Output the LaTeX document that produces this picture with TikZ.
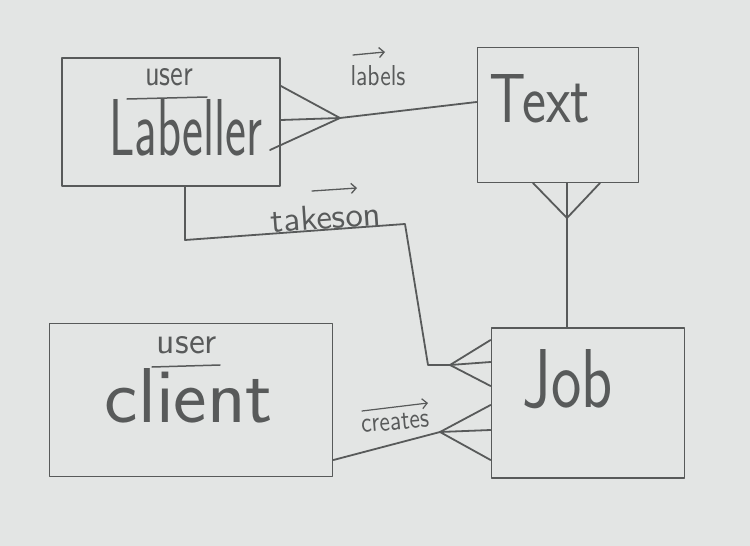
\documentclass[tikz,border=0pt]{standalone}
\usepackage{graphicx}
\usetikzlibrary{calc,arrows.meta}
\definecolor{paper}{HTML}{E3E5E4}
\definecolor{ink}{HTML}{585A5A}
\newcommand{\handtext}[3]{\resizebox{#1pt}{#2pt}{#3}}
\begin{document}
\begin{tikzpicture}[x=1pt,y=-1pt,
  ink line/.style={draw=ink,line width=1.8pt,line cap=round,line join=round},
  entity/.style={ink line,rectangle,inner sep=0pt},
  word/.style={text=ink,inner sep=0pt,font=\sffamily\fontsize{17}{17}\selectfont},
  smallword/.style={text=ink,inner sep=0pt,font=\sffamily\fontsize{10}{10}\selectfont},
  overarrow/.style={ink line,line width=1.3pt,-{Straight Barb[length=5pt,width=10pt]}}]
\fill[paper] (0,0) rectangle (750,546);
\useasboundingbox (0,0) rectangle (750,546);

% entities
\node[entity,minimum width=218pt,minimum height=128pt] (lab) at (171,122) {};
\node[entity,minimum width=161pt,minimum height=135pt] (txt) at (558,115) {};
\node[entity,minimum width=193pt,minimum height=150pt] (job) at (588,403) {};
\node[entity,minimum width=283pt,minimum height=153pt] (cli) at (191,400) {};

% entity texts
\node[smallword] (labuser) at (169,77) {\handtext{48}{17}{user}};
\draw[ink line,line width=1.5pt] (127,99) -- (207,97);
\node[word] (labname) at (186,128) {\handtext{153}{56}{Labeller}};
\node[word] (txtname) at (540,99) {\handtext{100}{48}{Text}};
\node[word] (jobname) at (568,379) {\handtext{90}{58}{Job}};
\node[smallword] (cliuser) at (187,345) {\handtext{60}{17}{user}};
\draw[ink line,line width=1.5pt] (152,367) -- (220,365);
\node[word] (cliname) at (189,396) {\handtext{168}{54}{client}};

% labels: Labeller >--- Text
\coordinate (c1) at (340,118);
\draw[ink line] (c1) -- (txt.west |- 0,102);
\draw[ink line] (lab.east |- 0,86) -- (c1);
\draw[ink line] (lab.east |- 0,120) -- (c1);
\draw[ink line] (270,150) -- (c1);
\node[smallword] (rlabels) at (378,76) {\handtext{55}{20}{labels}};
\draw[overarrow] (353,55) -- (385,52);

% Text >--- Job
\coordinate (c2) at (567,218);
\draw[ink line] (c2) -- (c2 |- job.north);
\draw[ink line] (c2 |- txt.south) -- (c2);
\draw[ink line] (533,183) -- (c2);
\draw[ink line] (600,183) -- (c2);

% Labeller --- takes on --< Job
\coordinate (c3) at (450,365);
\draw[ink line] (185,186) -- (185,240) -- (405,224) -- (428,365) -- (c3);
\draw[ink line] (job.west |- 0,340) -- (c3);
\draw[ink line] (job.west |- 0,362) -- (c3);
\draw[ink line] (job.west |- 0,386) -- (c3);
\node[smallword,rotate=4] (rtakes) at (326,217) {\handtext{110}{24}{takeson}};
\draw[overarrow] (312,191) -- (357,188);

% client --- creates --< Job
\coordinate (c4) at (440,432);
\draw[ink line] (cli.east |- 0,460) -- (c4);
\draw[ink line] (job.west |- 0,405) -- (c4);
\draw[ink line] (job.west |- 0,430) -- (c4);
\draw[ink line] (job.west |- 0,460) -- (c4);
\node[smallword,rotate=5] (rcreates) at (395,422) {\handtext{68}{16}{creates}};
\draw[overarrow,line width=1.2pt] (362,411) -- (428,403);
\end{tikzpicture}
\end{document}
